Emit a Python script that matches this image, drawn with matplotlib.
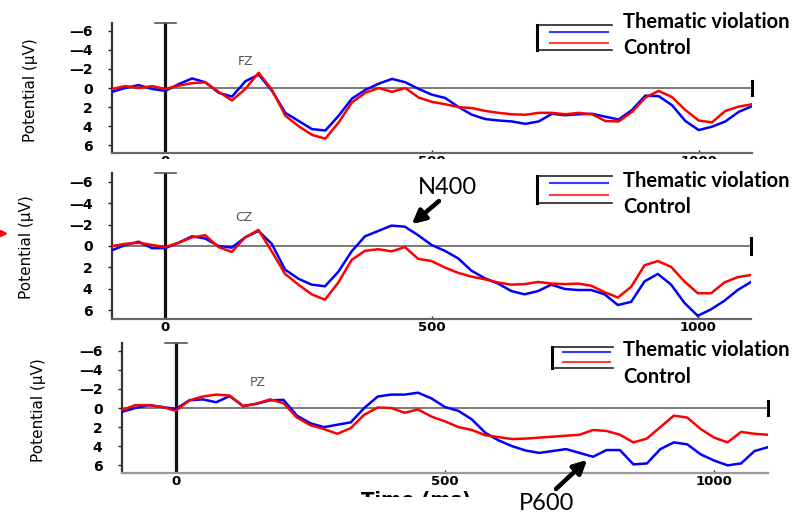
import matplotlib
matplotlib.use("Agg")
import matplotlib.pyplot as plt
from matplotlib.lines import Line2D
from matplotlib.patches import Rectangle

# ---------------- data (µV, negative plotted upward) ----------------
time_ms = list(range(-100, 1101, 25))

fz_violation = [0.4, 0.0, -0.3, 0.1, 0.3, -0.4, -1.0, -0.6, 0.5, 0.9,
                -0.7, -1.4, 0.3, 2.6, 3.45, 4.3, 4.45, 2.9, 1.1, 0.2,
                -0.45, -0.95, -0.6, 0.1, 0.7, 1.05, 2.0, 2.8, 3.25, 3.4,
                3.5, 3.75, 3.5, 2.7, 2.85, 2.75, 2.7, 3.0, 3.3, 2.3,
                0.8, 0.85, 1.8, 3.45, 4.4, 4.05, 3.5, 2.5, 1.9]
fz_control = [0.1, -0.2, 0.0, -0.2, 0.1, -0.25, -0.5, -0.6, 0.4, 1.3,
              0.1, -1.6, 0.2, 2.9, 4.0, 4.9, 5.3, 3.6, 1.5, 0.5,
              0.0, 0.4, 0.0, 1.0, 1.45, 1.7, 2.0, 2.1, 2.4, 2.6,
              2.75, 2.8, 2.6, 2.6, 2.75, 2.6, 2.75, 3.45, 3.5, 2.5,
              1.0, 0.3, 0.95, 2.3, 3.4, 3.6, 2.4, 1.95, 1.7]

cz_violation = [0.4, -0.1, -0.4, 0.2, 0.2, -0.3, -0.9, -0.7, 0.0, 0.15,
                -0.8, -1.4, -0.2, 2.2, 3.05, 3.6, 3.75, 2.4, 0.5, -0.9,
                -1.4, -1.9, -1.8, -1.0, -0.1, 0.45, 1.15, 2.3, 3.0, 3.5,
                4.2, 4.5, 4.2, 3.6, 4.0, 4.1, 4.1, 4.5, 5.5, 5.2,
                3.3, 2.6, 3.6, 5.3, 6.5, 5.9, 5.1, 4.1, 3.35]
cz_control = [0.0, -0.2, -0.3, -0.1, 0.1, -0.3, -0.8, -1.0, 0.1, 0.55,
              -0.8, -1.5, 0.5, 2.6, 3.6, 4.5, 5.0, 3.4, 1.3, 0.45,
              0.3, 0.5, 0.1, 1.2, 1.4, 2.0, 2.5, 2.85, 3.1, 3.4,
              3.6, 3.55, 3.35, 3.5, 3.55, 3.5, 3.7, 4.3, 4.8, 3.8,
              1.8, 1.4, 1.95, 3.3, 4.4, 4.4, 3.4, 2.9, 2.7]

pz_violation = [0.4, 0.0, -0.3, -0.1, 0.1, -0.8, -0.9, -0.6, -1.25, -0.2,
                -0.45, -0.8, -0.85, 0.8, 1.6, 2.0, 1.75, 1.5, 0.0, -1.2,
                -1.4, -1.4, -1.6, -1.0, -0.1, 0.3, 1.2, 2.6, 3.4, 4.0,
                4.45, 4.7, 4.5, 4.3, 4.7, 5.1, 4.4, 4.4, 5.9, 5.8,
                4.3, 3.6, 3.8, 4.85, 5.5, 6.0, 5.8, 4.5, 4.1]
pz_control = [0.2, -0.3, -0.3, -0.1, 0.3, -0.8, -1.2, -1.4, -1.3, -0.2,
              -0.45, -0.9, -0.5, 1.0, 1.8, 2.2, 2.7, 2.1, 0.7, -0.05,
              0.0, 0.5, 0.15, 0.9, 1.4, 2.0, 2.3, 2.85, 3.05, 3.25,
              3.2, 3.1, 3.0, 2.9, 2.8, 2.3, 2.4, 2.8, 3.6, 3.2,
              2.0, 0.8, 1.0, 2.2, 3.1, 3.6, 2.5, 2.7, 2.8]

electrodes = ["FZ", "CZ", "PZ"]
violation_series = [fz_violation, cz_violation, pz_violation]
control_series = [fz_control, cz_control, pz_control]
legend_labels = ["Thematic violation", "Control"]
ytick_vals = [-6, -4, -2, 0, 2, 4, 6]
ytick_labels = ["\u20146", "\u20144", "\u20142", "0", "2", "4", "6"]
xtick_vals = [0, 500, 1000]
xtick_labels = ["0", "500", "1000"]

# ---------------- layout (pixels) ----------------
W, H = 805, 515
fig = plt.figure(figsize=(W / 100, H / 100), dpi=100)
fig.patch.set_facecolor("white")


def fx(x):
    return x / W


def fy(y):
    return 1 - y / H


def fline(xs, ys, **kw):
    fig.add_artist(Line2D([fx(v) for v in xs], [fy(v) for v in ys],
                          transform=fig.transFigure, **kw))


NARROW = ["DejaVu Sans Condensed", "Liberation Sans Narrow", "DejaVu Sans"]

# left, right, top, bottom in pixels
panel_px = [(112, 752, 23, 153), (112, 751, 173, 319), (122, 768, 343, 473)]
ylabel_px = [(30, 90), (27, 247), (38, 410)]
legend_px = [
    (537, 25, 50, 550, 608, 32, 43, 612, 22, 48),
    (537, 176, 203, 550, 608, 183, 195, 612, 181, 207),
    (552, 347, 368, 563, 610, 352, 362, 613, 350, 377),
]
label_pos = [(150, -2.8), (148, -2.7), (152, -2.7)]

axes = []
for i in range(3):
    l, r, t, b = panel_px[i]
    ax = fig.add_axes([fx(l), fy(b), (r - l) / W, (b - t) / H])
    axes.append(ax)
    ax.set_xlim(-100, 1100)
    ax.set_ylim(6.8, -6.8)
    ax.set_facecolor("none")
    for s in ["top", "right"]:
        ax.spines[s].set_visible(False)
    ax.spines["left"].set_color("#333333")
    ax.spines["left"].set_linewidth(1.6)
    ax.spines["bottom"].set_color("#666666" if i < 2 else "#999999")
    ax.spines["bottom"].set_linewidth(1.6)

    ax.axhline(0, color="#707070", lw=1.3, zorder=1)
    ax.plot([1100, 1100], [-0.7, 0.7], color="black", lw=2.2, clip_on=False, zorder=3)
    ax.axvline(0, color="#111111", lw=2.3, zorder=2)
    ax.plot([-20, 20], [-6.8, -6.8], color="#555555", lw=1.2, clip_on=False, zorder=2)

    ax.plot(time_ms, violation_series[i], color="#0000ff", lw=1.8, zorder=4)
    ax.plot(time_ms, control_series[i], color="#ff0000", lw=1.8, zorder=4)

    ax.set_yticks(ytick_vals)
    ax.set_yticklabels(ytick_labels)
    ax.set_xticks(xtick_vals)
    ax.set_xticklabels(xtick_labels)
    ax.tick_params(axis="y", direction="out", length=3, width=1, pad=11,
                   labelsize=10, colors="#222222")
    ax.tick_params(axis="x", direction="in", length=2, width=1, pad=1.5,
                   labelsize=9.5, colors="#222222")
    for lbl in ax.get_yticklabels() + ax.get_xticklabels():
        lbl.set_fontweight("bold")
        lbl.set_color("black")

    ex, ey = label_pos[i]
    ax.text(ex, ey, electrodes[i], color="#555555", fontsize=9,
            ha="center", va="center")

    yx, yy = ylabel_px[i]
    fig.text(fx(yx), fy(yy), "Potential (\u00b5V)", rotation=90,
             ha="center", va="center", fontsize=11, family=NARROW)

    bl, bt, bb, lx0, lx1, by, ry, rx, t1, t2 = legend_px[i]
    fline([rx, bl, bl, rx], [bt, bt, bb, bb], color="#222222", lw=1.2)
    fline([bl, bl], [bt, bb], color="black", lw=2.2)
    fline([lx0, lx1], [by, by], color="#3a3aff", lw=1.5)
    fline([lx0, lx1], [ry, ry], color="#ff4040", lw=1.5)
    fig.text(fx(623), fy(t1), legend_labels[0], fontsize=14.5, fontweight="bold",
             family=["Lato", "DejaVu Sans"], va="center", ha="left")
    fig.text(fx(623), fy(t2), legend_labels[1], fontsize=14.5, fontweight="bold",
             family=["Lato", "DejaVu Sans"], va="center", ha="left")

# clip the top panel's x tick labels as in the reference
fig.add_artist(Rectangle((fx(100), fy(171)), (770 - 100) / W, (171 - 159) / H,
                         transform=fig.transFigure, facecolor="white",
                         edgecolor="none", zorder=10))

# Time axis label, partially cut off at the bottom
fig.text(fx(416), fy(491), "Time (ms)", fontsize=14, fontweight="bold",
         ha="center", va="top", zorder=5)
fig.add_artist(Rectangle((fx(300), 0), (515 - 300) / W, (H - 497) / H,
                         transform=fig.transFigure, facecolor="white",
                         edgecolor="none", zorder=10))

# annotations
fig.text(fx(447), fy(187), "N400", fontsize=17, family=["Lato", "DejaVu Sans"],
         ha="center", va="center", zorder=20)
fig.add_artist(plt.annotate("", xy=(fx(412), fy(224)), xytext=(fx(439), fy(201)),
                            xycoords="figure fraction", textcoords="figure fraction",
                            arrowprops=dict(arrowstyle="-|>", lw=3, color="black",
                                            mutation_scale=20, shrinkA=0, shrinkB=0)))
fig.text(fx(547), fy(504), "P600", fontsize=17, family=["Lato", "DejaVu Sans"],
         ha="center", va="center", zorder=20)
fig.add_artist(plt.annotate("", xy=(fx(587), fy(460)), xytext=(fx(556), fy(489)),
                            xycoords="figure fraction", textcoords="figure fraction",
                            arrowprops=dict(arrowstyle="-|>", lw=3, color="black",
                                            mutation_scale=20, shrinkA=0, shrinkB=0)))

# small red mark at the left edge
fig.add_artist(Line2D([fx(3)], [fy(233)], marker=">", color="red", markersize=5,
                      transform=fig.transFigure, linestyle="none"))

fig.savefig("out.png", dpi=100, facecolor="white")
